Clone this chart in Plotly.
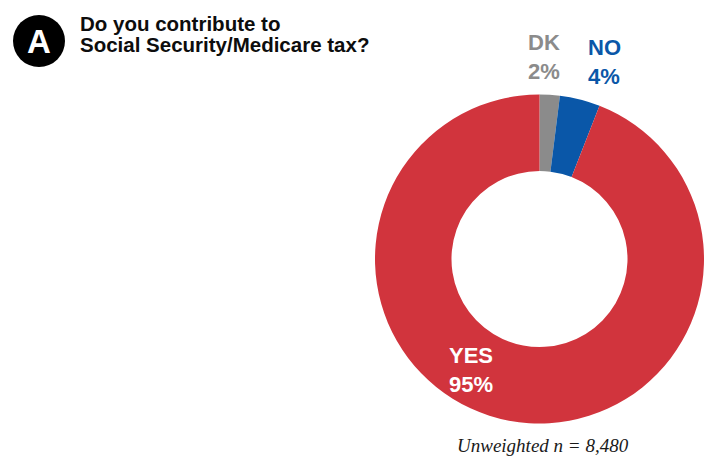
import plotly.graph_objects as go

# Survey answers, in clockwise order from 12 o'clock
answers = ["DK", "NO", "YES"]
shares = [2, 4, 95]
slice_colors = ["#8b8b8b", "#0a57a8", "#d1343d"]
label_colors = ["#8b8b8b", "#0a57a8", "#ffffff"]
# label centres in pixels (x, y from top)
label_pos = [(544, 57), (604, 62), (471, 370)]

question = ["Do you contribute to", "Social Security/Medicare tax?"]
sample_note = "<i>Unweighted n = 8,480</i>"

W, H = 704, 458


def px(x):
    return x / W


def py(y):
    return 1 - y / H


fig = go.Figure(
    go.Pie(
        labels=answers,
        values=shares,
        marker=dict(colors=slice_colors, line=dict(width=0)),
        hole=0.535,
        sort=False,
        direction="clockwise",
        rotation=0,
        textinfo="none",
        showlegend=False,
        domain=dict(x=[px(375), 1.0], y=[py(259 + 164.5), py(259 - 164.5)]),
    )
)

annotations = []
for name, val, col, (x, y) in zip(answers, shares, label_colors, label_pos):
    annotations.append(
        dict(
            text=f"<b>{name}<br>{val}%</b>",
            x=px(x), y=py(y), xref="paper", yref="paper",
            xanchor="center", yanchor="middle", align="left",
            showarrow=False,
            font=dict(family="Liberation Sans", size=22, color=col),
        )
    )

# Question heading, one line per annotation
for i, line in enumerate(question):
    annotations.append(
        dict(
            text=f"<b>{line}</b>",
            x=px(78), y=py(23.5 + i * 20.7), xref="paper", yref="paper",
            xanchor="left", yanchor="middle", align="left",
            showarrow=False,
            font=dict(family="Liberation Sans", size=20.5, color="#0d0d0d"),
        )
    )

# Panel letter inside the black disc
annotations.append(
    dict(
        text="<b>A</b>",
        x=px(39), y=py(41.5), xref="paper", yref="paper",
        xanchor="center", yanchor="middle",
        showarrow=False,
        font=dict(family="Liberation Sans", size=33, color="#ffffff"),
    )
)

annotations.append(
    dict(
        text=sample_note,
        x=px(542.5), y=py(445), xref="paper", yref="paper",
        xanchor="center", yanchor="middle",
        showarrow=False,
        font=dict(family="Liberation Serif", size=19, color="#1a1a1a"),
    )
)

fig.update_layout(
    width=W,
    height=H,
    margin=dict(l=0, r=0, t=0, b=0),
    paper_bgcolor="#ffffff",
    annotations=annotations,
    shapes=[
        dict(
            type="circle", xref="paper", yref="paper",
            x0=px(13), x1=px(65), y0=py(67), y1=py(15),
            fillcolor="#000000", line=dict(width=0), layer="below",
        )
    ],
)

fig.write_html("out.html")
